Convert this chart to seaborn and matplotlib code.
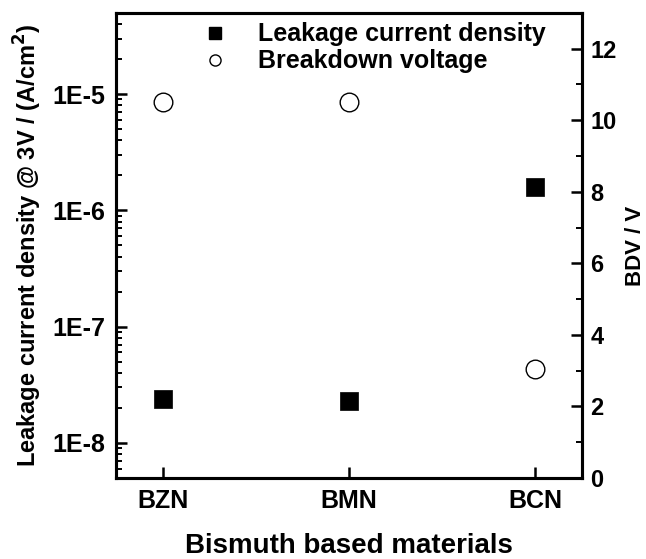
import numpy as np
import pandas as pd
import matplotlib
matplotlib.use("Agg")
import matplotlib.pyplot as plt
import seaborn as sns
from matplotlib.ticker import FuncFormatter, LogLocator, MultipleLocator, FixedLocator
from matplotlib.lines import Line2D

materials = ["BZN", "BMN", "BCN"]
leakage = [2.4e-8, 2.3e-8, 1.6e-6]
bdv = [10.5, 10.5, 3.05]

sns.set_theme(style="ticks")
plt.rcParams['font.family'] = ['Liberation Sans', 'DejaVu Sans']
plt.rcParams['font.weight'] = 'bold'
plt.rcParams['axes.labelweight'] = 'bold'
plt.rcParams['text.color'] = 'black'
plt.rcParams['axes.labelcolor'] = 'black'
plt.rcParams['xtick.color'] = 'black'
plt.rcParams['ytick.color'] = 'black'
plt.rcParams['mathtext.default'] = 'bf'

df = pd.DataFrame({"material": materials, "x": np.arange(len(materials)),
                   "leakage": leakage, "bdv": bdv})

fig = plt.figure(figsize=(6.46, 5.59), dpi=100)
ax = fig.add_axes([0.180, 0.145, 0.721, 0.832])
ax2 = ax.twinx()

sns.scatterplot(data=df, x="x", y="leakage", ax=ax, marker="s", s=150,
                color="black", edgecolor="black", linewidth=0.5, legend=False, zorder=3)
sns.scatterplot(data=df, x="x", y="bdv", ax=ax2, marker="o", s=180,
                facecolor="white", edgecolor="black", linewidth=1.0, legend=False, zorder=3)

ax.set_yscale("log")
ax.set_ylim(5e-9, 5e-5)
ax.set_xlim(-0.25, 2.25)
ax2.set_ylim(0, 13)

ax.set_xticks(df["x"])
ax.set_xticklabels(materials)
ax.yaxis.set_major_locator(FixedLocator([1e-8, 1e-7, 1e-6, 1e-5]))
ax.yaxis.set_major_formatter(FuncFormatter(lambda v, p: f"1E{int(round(np.log10(v)))}"))
ax.yaxis.set_minor_locator(LogLocator(base=10, subs=np.arange(2, 10)))

ax2.yaxis.set_major_locator(MultipleLocator(2))
ax2.yaxis.set_minor_locator(MultipleLocator(1))

for a in (ax, ax2):
    for s in a.spines.values():
        s.set_linewidth(2.2)
        s.set_color("black")
        s.set_visible(True)

ax.tick_params(axis="both", which="major", direction="in", length=8, width=1.8,
               labelsize=18, colors="black", pad=8)
ax.tick_params(axis="y", which="minor", direction="in", length=4, width=1.4)
ax.tick_params(axis="x", which="minor", bottom=False)
ax2.tick_params(axis="y", which="major", direction="in", length=8, width=1.8,
                labelsize=17, colors="black", pad=6)
ax2.tick_params(axis="y", which="minor", direction="in", length=4, width=1.4)

for lab in ax.get_xticklabels() + ax.get_yticklabels() + ax2.get_yticklabels():
    lab.set_fontweight("bold")

ax.set_xlabel("Bismuth based materials", fontsize=20, fontweight="bold", labelpad=14,
              color="black")
ax.set_ylabel("Leakage current density @ 3V / (A/cm$^2$)", fontsize=17,
              fontweight="bold", labelpad=6, color="black")
ax2.set_ylabel("BDV / V", fontsize=16, fontweight="bold", labelpad=6, color="black")

handles = [
    Line2D([], [], marker="s", linestyle="none", markersize=8, markerfacecolor="black",
           markeredgecolor="black"),
    Line2D([], [], marker="o", linestyle="none", markersize=8, markerfacecolor="white",
           markeredgecolor="black"),
]
leg = ax.legend(handles, ["Leakage current density", "Breakdown voltage"],
                loc="upper left", bbox_to_anchor=(0.125, 1.012), frameon=False,
                prop={"size": 18, "weight": "bold"}, handletextpad=0.75,
                labelspacing=0.12, borderaxespad=0.2)
for t in leg.get_texts():
    t.set_color("black")
ax2.set_zorder(1)
ax.set_zorder(2)
ax.patch.set_visible(False)

fig.savefig("out.png", dpi=100)
